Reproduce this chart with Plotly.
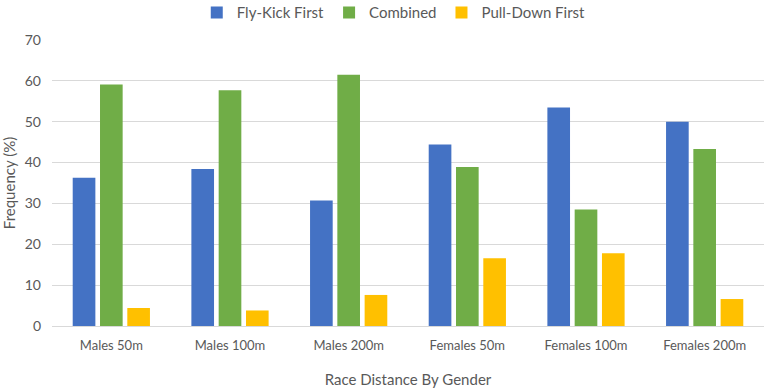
import plotly.graph_objects as go

categories = ["Males 50m", "Males 100m", "Males 200m", "Females 50m", "Females 100m", "Females 200m"]
fly_kick_first = [36.3, 38.4, 30.7, 44.4, 53.5, 50.0]
combined = [59.1, 57.7, 61.5, 38.9, 28.5, 43.3]
pull_down_first = [4.4, 3.8, 7.6, 16.6, 17.8, 6.6]
y_ticks = [0, 10, 20, 30, 40, 50, 60, 70]

series = [
    ("Fly-Kick First", fly_kick_first, "#4472C4"),
    ("Combined", combined, "#70AD47"),
    ("Pull-Down First", pull_down_first, "#FFC000"),
]

fig = go.Figure()
for name, vals, color in series:
    fig.add_trace(go.Bar(name=name, x=categories, y=vals, marker_color=color,
                         marker_line_width=0))

font_family = "Lato, 'Open Sans', sans-serif"
fig.update_layout(
    width=767, height=390,
    margin=dict(l=52, r=3, t=40, b=64, autoexpand=False),
    paper_bgcolor="white", plot_bgcolor="white",
    barmode="group", bargap=0.31, bargroupgap=0.17,
    font=dict(family=font_family, color="#595959", size=13),
    legend=dict(orientation="h", x=0.48, xanchor="center", y=1.153, yanchor="top",
                yref="paper", font=dict(size=15, color="#595959"),
                itemwidth=30, traceorder="normal"),
    xaxis=dict(title=dict(text="Race Distance By Gender", font=dict(size=15), standoff=22),
               showgrid=False, showline=False, ticks="", tickfont=dict(size=13),
               ticklabelstandoff=10, automargin=False),
    yaxis=dict(title=dict(text="Frequency (%)", font=dict(size=15), standoff=10),
               range=[0, 70], tickvals=y_ticks, showgrid=True, gridcolor="#D9D9D9",
               gridwidth=1, zeroline=True, zerolinecolor="#D9D9D9", zerolinewidth=1,
               showline=False, ticks="", tickfont=dict(size=14),
               ticklabelstandoff=10, automargin=False),
)

fig.write_html("out.html", config={"displayModeBar": False},
               post_script="document.body.style.margin='0';document.body.style.overflow='hidden';")
